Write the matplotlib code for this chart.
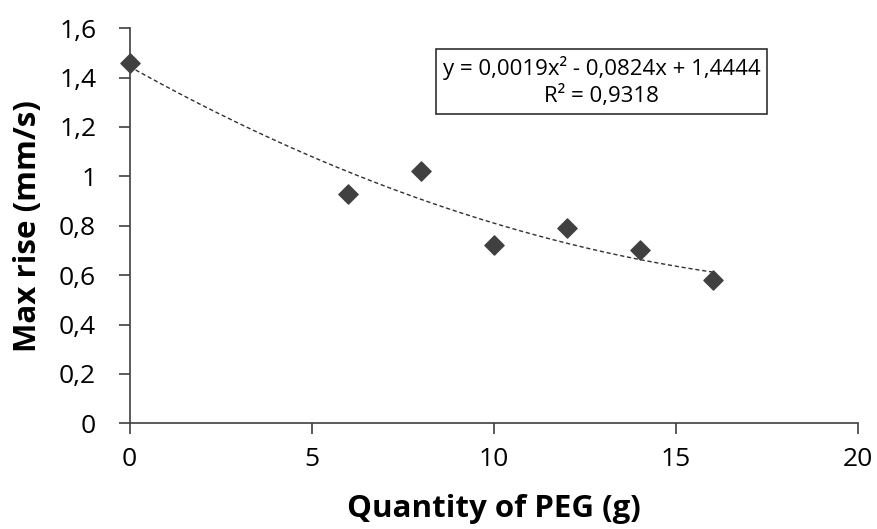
import numpy as np
import matplotlib.pyplot as plt

plt.rcParams['font.family'] = ['Open Sans', 'DejaVu Sans']

# data
peg = [0, 6, 8, 10, 12, 14, 16]
max_rise = [1.46, 0.93, 1.02, 0.72, 0.79, 0.70, 0.58]
# trendline coefficients from the chart label (a x^2 + b x + c)
trend_coef = [0.0019, -0.0824, 1.4444]
r2 = 0.9318

x_ticks = [0, 5, 10, 15, 20]
y_ticks = [0, 0.2, 0.4, 0.6, 0.8, 1.0, 1.2, 1.4, 1.6]
y_labels = ['0', '0,2', '0,4', '0,6', '0,8', '1', '1,2', '1,4', '1,6']

fig = plt.figure(figsize=(8.77, 5.29), dpi=100)
ax = fig.add_axes([0.1477, 0.1998, 0.831, 0.747])

xs = np.linspace(min(peg), max(peg), 200)
ax.plot(xs, np.polyval(trend_coef, xs), color='#303030', lw=1.0,
        linestyle=(0, (3, 2)), zorder=2)
ax.scatter(peg, max_rise, marker='D', s=95, color='#404040', zorder=3,
           clip_on=False)

ax.set_xlim(0, 20)
ax.set_ylim(0, 1.6)
ax.set_xticks(x_ticks)
ax.set_xticklabels([str(t) for t in x_ticks])
ax.set_yticks(y_ticks)
ax.set_yticklabels(y_labels)

for s in ['top', 'right']:
    ax.spines[s].set_visible(False)
for s in ['left', 'bottom']:
    ax.spines[s].set_color('#404040')
    ax.spines[s].set_linewidth(1.2)
ax.tick_params(direction='out', length=8, width=1.2, color='#404040',
               labelsize=19)
ax.tick_params(axis='x', pad=9)
ax.tick_params(axis='y', pad=16)

ax.set_xlabel('Quantity of PEG (g)', fontsize=22.5, fontweight='bold')
ax.xaxis.label.set_va('baseline')
ax.xaxis.set_label_coords(0.5, -0.238)
ax.set_ylabel('Max rise (mm/s)', fontsize=22.5, fontweight='bold')
ax.yaxis.label.set_va('center')
ax.yaxis.set_label_coords(-0.14, 0.5)

eq = 'y = 0,0019x² - 0,0824x + 1,4444\nR² = ' + str(r2).replace('.', ',')
ax.text(12.95, 1.384, eq, fontsize=16, ha='center', va='center',
        linespacing=1.3,
        bbox=dict(boxstyle='square,pad=0.3', fc='white', ec='#303030', lw=1.2))

fig.savefig('out.png', dpi=100)
